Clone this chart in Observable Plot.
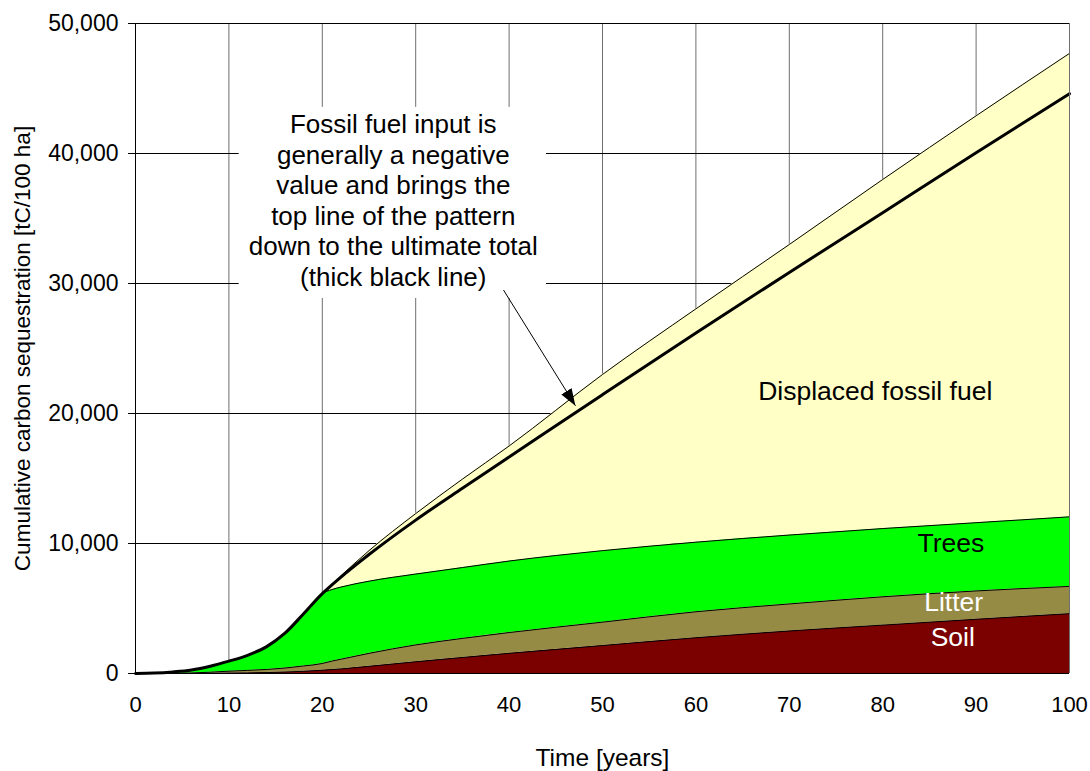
<!DOCTYPE html>
<html>
<head>
<meta charset="utf-8">
<script src="https://cdn.jsdelivr.net/npm/d3@7"></script>
<script src="https://cdn.jsdelivr.net/npm/@observablehq/plot@0.6"></script>
<style>
  html, body { margin: 0; padding: 0; background: #fff; }
  #chart svg { display: block; }
</style>
</head>
<body>
<div id="chart"></div>
<script>
// ---- data (tC / 100 ha, per component) ----
const years       = [0, 2, 4, 6, 8, 10, 12, 14, 16, 18, 20, 21, 22, 25, 30, 35, 40, 50, 60, 70, 80, 90, 100];
const soil        = [0, 0, 2, 5, 12, 30, 45, 70, 110, 170, 250, 300, 350, 550, 900, 1230, 1550, 2150, 2750, 3270, 3720, 4170, 4600];
const litter      = [0, 2, 8, 35, 88, 150, 195, 240, 310, 410, 520, 650, 750, 1000, 1300, 1470, 1600, 1800, 2000, 2080, 2180, 2180, 2100];
const trees       = [0, 28, 110, 230, 460, 770, 1160, 1740, 2680, 4020, 5380, 5500, 5550, 5550, 5450, 5450, 5500, 5500, 5350, 5300, 5250, 5250, 5350];
const displaced   = [0, 0, 0, 0, 0, 0, 0, 0, 0, 0, 0, 400, 870, 2350, 4650, 6800, 8850, 13550, 17950, 22350, 26850, 31300, 35650];
const fossilInput = [0, 0, 0, 0, 0, 0, 0, 0, 0, 0, 0, -50, -100, -300, -500, -700, -850, -1550, -1850, -2150, -2550, -2850, -3100];

const layers = ["Soil", "Litter", "Trees", "Displaced fossil fuel"];
const layerValues = [soil, litter, trees, displaced];
const layerColors = ["#7b0000", "#968b45", "#00ff00", "#ffffc6"];

const xTicks = [0, 10, 20, 30, 40, 50, 60, 70, 80, 90, 100];
const yTicks = [0, 10000, 20000, 30000, 40000, 50000];

const xTitle = "Time [years]";
const yTitle = "Cumulative carbon sequestration [tC/100 ha]";
const noteText = "Fossil fuel input is\ngenerally a negative\nvalue and brings the\ntop line of the pattern\ndown to the ultimate total\n(thick black line)";

// annotation placement (data units)
const noteBox = {x1: 11.1, x2: 44.0, y1: 28850, y2: 43550};
const noteAnchor = {x: 27.6, y: 36430};
const arrowSpec = {x1: 39.4, y1: 29500, x2: 47.1, y2: 20600};
const bandLabels = [
  {text: "Displaced fossil fuel", x: 79.2, y: 21700, color: "black"},
  {text: "Trees", x: 87.3, y: 10000, color: "black"},
  {text: "Litter", x: 87.6, y: 5450, color: "white"},
  {text: "Soil", x: 87.5, y: 2750, color: "white"}
];

// ---- tables ----
const long = [];
years.forEach((yr, i) => {
  layers.forEach((layer, j) => long.push({year: yr, layer, value: layerValues[j][i]}));
});
const ultimate = years.map((yr, i) => ({
  year: yr,
  value: soil[i] + litter[i] + trees[i] + displaced[i] + fossilInput[i]
}));

const curve = "monotone-x";
const font = "'Liberation Sans', Arial, Helvetica, sans-serif";

const chart = Plot.plot({
  width: 1090,
  height: 771,
  marginLeft: 135,
  marginRight: 21,
  marginTop: 23,
  marginBottom: 98,
  style: {fontFamily: font, fontSize: "21px", background: "white", color: "black", overflow: "visible"},
  x: {domain: [0, 100], label: null},
  y: {domain: [0, 50000], label: null},
  color: {domain: layers, range: layerColors},
  marks: [
    Plot.gridX(xTicks, {stroke: "#6e6e6e", strokeOpacity: 1, strokeWidth: 1}),
    Plot.gridY(yTicks, {stroke: "#000", strokeOpacity: 1, strokeWidth: 1}),
    Plot.rect([noteBox], {x1: "x1", x2: "x2", y1: "y1", y2: "y2", fill: "white"}),
    Plot.text([noteText], {
      x: noteAnchor.x, y: noteAnchor.y, text: d => d,
      fontSize: 26, lineHeight: 1.173, textAnchor: "middle", fill: "black"
    }),
    Plot.areaY(long, {x: "year", y: "value", fill: "layer", curve}),
    Plot.lineY(long, Plot.stackY2({x: "year", y: "value", z: "layer", stroke: "black", strokeWidth: 1, curve})),
    Plot.lineY(ultimate, {x: "year", y: "value", stroke: "black", strokeWidth: 3, curve}),
    Plot.link([arrowSpec], {x1: "x1", y1: "y1", x2: "x2", y2: "y2", stroke: "black", strokeWidth: 1, markerEnd: "arrow"}),
    Plot.ruleX([100], {stroke: "#6e6e6e", strokeWidth: 1}),
    Plot.ruleX([0], {stroke: "black", strokeWidth: 1}),
    Plot.ruleY([0], {stroke: "black", strokeWidth: 1}),
    Plot.axisY(yTicks, {tickFormat: d3.format(","), tickSize: 7, tickPadding: 10, fontSize: 23, stroke: "black"}),
    Plot.axisX(xTicks, {tickSize: 0, tickPadding: 23, fontSize: 22}),
    Plot.text(bandLabels, {x: "x", y: "y", text: "text", fill: "color", fontSize: 26.5}),
    Plot.text([yTitle], {frameAnchor: "left", dx: -113, rotate: -90, textAnchor: "middle", lineAnchor: "middle", text: d => d, fontSize: 22.5}),
    Plot.text([xTitle], {frameAnchor: "bottom", dy: 85, textAnchor: "middle", lineAnchor: "middle", text: d => d, fontSize: 24.5})
  ]
});

// filled arrowhead
d3.select(chart).selectAll("marker")
  .attr("viewBox", "-17 -7 18 14")
  .attr("markerWidth", 18)
  .attr("markerHeight", 14)
  .attr("markerUnits", "userSpaceOnUse")
  .attr("fill", "black")
  .attr("stroke", "none")
  .selectAll("path").attr("d", "M-17,-6L0,0L-17,6Z");

document.getElementById("chart").appendChild(chart);
</script>
</body>
</html>
